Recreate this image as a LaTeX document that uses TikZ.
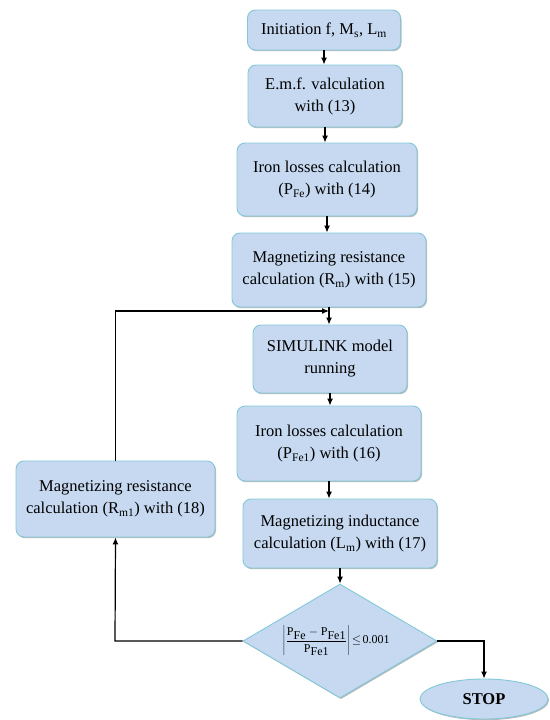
\documentclass[tikz,border=0pt]{standalone}
\usepackage{fontspec}
\setmainfont{Liberation Serif}
\usetikzlibrary{arrows.meta,shapes.geometric,shadows}
\definecolor{boxfill}{RGB}{198,217,241}
\definecolor{boxline}{RGB}{130,200,215}
\tikzset{
  blk/.style={draw=boxline, fill=boxfill, line width=0.9pt, rounded corners=8pt,
    align=center, inner sep=2pt, font=\fontsize{16.5}{22}\selectfont,
    drop shadow={shadow xshift=1pt, shadow yshift=-1.2pt, fill=black!45, opacity=0.6}},
  dec/.style={diamond, draw=boxline, fill=boxfill, line width=0.9pt, inner sep=0pt,
    drop shadow={shadow xshift=1pt, shadow yshift=-1.2pt, fill=black!45, opacity=0.6}},
  term/.style={ellipse, draw=boxline, fill=boxfill, line width=0.9pt, inner sep=0pt,
    font=\fontsize{16.5}{20}\selectfont\bfseries,
    drop shadow={shadow xshift=1pt, shadow yshift=-1.2pt, fill=black!45, opacity=0.6}},
  arr/.style={line width=1.2pt, -{Latex[length=7pt,width=6pt]}},
  ln/.style={line width=1.2pt}
}
\begin{document}
\begin{tikzpicture}[x=1pt,y=-1pt]
\useasboundingbox (0,0) rectangle (549,720);
\node[blk, minimum width=153pt, minimum height=40pt] (init) at (324,30) {Initiation f, M\textsubscript{s}, L\textsubscript{m}};
\node[blk, minimum width=154pt, minimum height=62pt] (emf) at (325,96) {E.m.f. valculation\\with (13)};
\node[blk, minimum width=180pt, minimum height=73pt] (iron) at (327,179.5) {Iron losses calculation\\(P\textsubscript{Fe}) with (14)};
\node[blk, minimum width=194pt, minimum height=74pt] (mres) at (329,270) {Magnetizing resistance\\calculation (R\textsubscript{m}) with (15)};
\node[blk, minimum width=154pt, minimum height=68pt] (sim) at (330,359) {SIMULINK model\\running};
\node[blk, minimum width=184pt, minimum height=75pt] (iron2) at (329,443.5) {Iron losses calculation\\(P\textsubscript{Fe1}) with (16)};
\node[blk, minimum width=194pt, minimum height=69pt] (mind) at (340,533.5) {Magnetizing inductance\\calculation (L\textsubscript{m}) with (17)};
\node[blk, minimum width=199pt, minimum height=76pt] (left) at (115.5,499) {Magnetizing resistance\\calculation (R\textsubscript{m1}) with (18)};
\node[dec, minimum width=194pt, minimum height=114pt] (dec) at (340,641) {};
\node[font=\fontsize{12}{14}\selectfont, inner sep=0pt] (crit) at (336,641) {$\displaystyle\left|\frac{\textrm{P}_{\textrm{Fe}}-\textrm{P}_{\textrm{Fe1}}}{\textrm{P}_{\textrm{Fe1}}}\right|\!\leq\!\textrm{0.001}$};
\node[term, minimum width=128pt, minimum height=40pt] (stop) at (484,699) {STOP};
\coordinate (fb) at (329,311);
\coordinate (lc) at (115,641);
\coordinate (rc) at (484,641);
\draw[arr] (init.south) -- (init.south |- emf.north);
\draw[arr] (emf.south) -- (emf.south |- iron.north);
\draw[arr] (iron.south) -- (iron.south |- mres.north);
\draw[arr] (mres.south) -- (mres.south |- sim.north);
\draw[arr] (sim.south) -- (sim.south |- iron2.north);
\draw[arr] (iron2.south) -- (iron2.south |- mind.north);
\draw[arr] (mind.south) -- (dec.north);
\draw[arr] (left.north) |- (fb);
\draw[arr] (dec.west) -- (lc) -- (left.south);
\draw[arr] (dec.east) -- (rc) -- (stop.north);
\end{tikzpicture}
\end{document}
